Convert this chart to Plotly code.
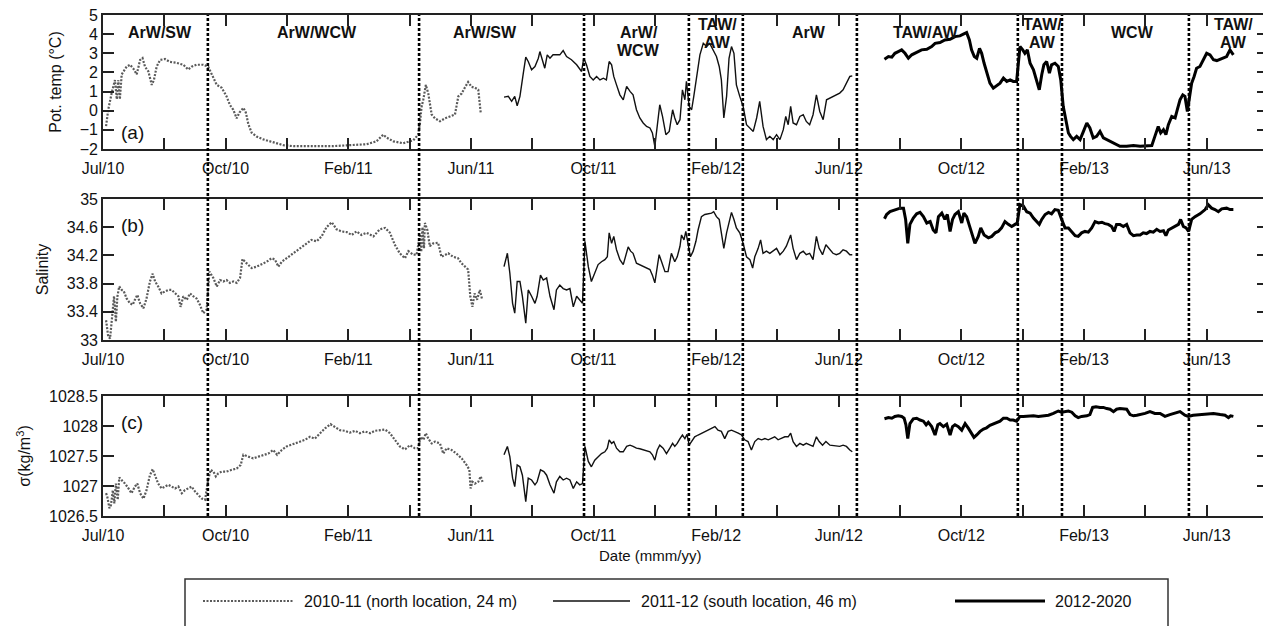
import plotly.graph_objects as go

# ---------------- axis / annotation text ----------------
MAJOR_MONTHS = list(range(-4, 33, 4))          # month index, Oct/10 = 0
TICK_LABELS = ["Jul/10", "Oct/10", "Feb/11", "Jun/11", "Oct/11",
               "Feb/12", "Jun/12", "Oct/12", "Feb/13", "Jun/13"]
BOUNDARY_MONTHS = [-0.58, 6.31, 11.69, 15.11, 16.87, 20.59, 25.84, 27.28, 31.42]
REGION_LABELS = ["ArW/SW", "ArW/WCW", "ArW/SW", "ArW/<br>WCW", "TAW/<br>AW", "ArW",
                 "TAW/AW", "TAW/<br>AW", "WCW", "TAW/<br>AW"]
REGION_CENTERS = [-2.14, 2.98, 8.46, 13.48, 16.03, 19.03, 22.84, 26.63, 29.59, 32.89]
SERIES_NAMES = ["2010-11 (north location, 24 m)", "2011-12 (south location, 46 m)", "2012-2020"]

# ---------------- (a) potential temperature ----------------
temp_2010_t = [-3.90, -3.83, -3.72, -3.61, -3.55, -3.50, -3.45, -3.39, -3.23, -3.12, -3.01, -2.90,
               -2.79, -2.71, -2.63, -2.52, -2.41, -2.34, -2.25, -2.14, -1.98, -1.82, -1.60, -1.38,
               -1.22, -1.11, -0.95, -0.73, -0.57, -0.46, -0.29, -0.13, 0.03, 0.14, 0.25, 0.36,
               0.45, 0.58, 0.66, 0.74, 0.85, 1.01, 1.23, 1.45, 1.66, 1.88, 2.21, 2.97, 3.51, 4.05,
               4.60, 4.92, 5.14, 5.25, 5.47, 5.79, 6.12, 6.28, 6.34, 6.39, 6.45, 6.53, 6.61, 6.72,
               6.83, 6.99, 7.15, 7.32, 7.48, 7.59, 7.70, 7.80, 7.91, 8.02, 8.13, 8.24, 8.32]
temp_2010 = [-0.8, 0.05, 0.9, 1.6, 0.6, 1.6, 0.6, 1.9, 2.3, 2.4, 2.2, 1.9,
             2.65, 2.75, 2.3, 2.05, 1.35, 1.6, 2.3, 2.65, 2.7, 2.55, 2.5, 2.4,
             2.15, 2.3, 2.4, 2.4, 2.3, 1.9, 1.35, 1.2, 0.75, 0.3, 0.05, -0.4,
             -0.1, 0.15, -0.1, -0.7, -1.15, -1.35, -1.5, -1.6, -1.7, -1.8, -1.85, -1.85, -1.85, -1.8,
             -1.75, -1.6, -1.25, -1.4, -1.6, -1.7, -1.55, -1.25, -0.65, 0.2, 0.6, 1.35, 0.9, -0.2,
             -0.4, -0.55, -0.4, -0.3, -0.2, 0.75, 0.9, 1.2, 1.5, 1.25, 1.2, 1.1, -0.1]

temp_2011_t = [9.08, 9.22, 9.33, 9.43, 9.51, 9.60, 9.71, 9.79, 9.87, 9.98, 10.09, 10.20, 10.25,
               10.34, 10.41, 10.49, 10.58, 10.68, 10.79, 10.90, 11.01, 11.12, 11.28, 11.45, 11.61,
               11.68, 11.77, 11.88, 11.99, 12.10, 12.21, 12.32, 12.42, 12.51, 12.59, 12.66, 12.75,
               12.86, 12.97, 13.08, 13.19, 13.29, 13.40, 13.51, 13.62, 13.73, 13.84, 13.92, 14.00,
               14.08, 14.16, 14.25, 14.36, 14.47, 14.58, 14.65, 14.73, 14.82, 14.90, 14.98, 15.03,
               15.12, 15.20, 15.27, 15.36, 15.47, 15.58, 15.69, 15.79, 15.90, 16.01, 16.10, 16.17,
               16.25, 16.34, 16.42, 16.50, 16.58, 16.66, 16.77, 16.88, 16.99, 17.10, 17.21, 17.32,
               17.42, 17.53, 17.64, 17.75, 17.86, 17.97, 18.08, 18.19, 18.27, 18.35, 18.43, 18.51,
               18.62, 18.73, 18.84, 18.94, 19.05, 19.16, 19.27, 19.38, 19.49, 19.60, 19.71, 19.81,
               19.92, 20.03, 20.14, 20.25, 20.36, 20.44]
temp_2011 = [0.71, 0.75, 0.49, 0.75, 0.26, 0.75, 1.96, 2.80, 2.57, 2.14, 2.31, 2.74, 3.09,
             2.66, 2.22, 2.92, 2.74, 2.92, 2.92, 2.92, 3.14, 2.83, 2.66, 2.40, 2.05,
             2.74, 2.40, 1.79, 1.61, 1.79, 1.61, 1.70, 1.61, 2.57, 2.40, 1.79, 1.35,
             0.83, 0.57, 1.27, 1.01, 0.83, 0.05, -0.38, -0.64, -0.82, -0.90, -1.16, -1.86,
             -0.82, 0.31, -0.30, -1.25, -1.08, 0.05, -0.38, -0.73, -0.47, 1.09, 0.57, 1.53,
             0.23, 0.05, 0.75, 1.79, 2.92, 3.52, 3.35, 3.52, 3.18, 2.83, 2.31, 1.61,
             -0.38, 0.75, 2.74, 3.35, 3.00, 1.35, 0.75, 0.23, -0.73, -0.90, -1.08, -0.38,
             0.49, -0.82, -1.51, -1.34, -1.51, -1.25, -1.51, -0.99, -0.30, -0.73, 0.23, -0.64,
             -0.73, -0.30, -0.21, -0.56, -0.73, -0.21, 0.83, -0.04, -0.47, 0.57, 0.66, 0.75,
             0.83, 0.92, 1.09, 1.44, 1.79, 1.82]

temp_2012_t = [21.49, 21.62, 21.73, 21.83, 21.94, 22.05, 22.16, 22.27, 22.38, 22.54, 22.70, 22.87,
               23.03, 23.14, 23.30, 23.46, 23.63, 23.79, 23.95, 24.08, 24.17, 24.26, 24.33, 24.42,
               24.50, 24.59, 24.66, 24.74, 24.82, 24.93, 25.04, 25.15, 25.26, 25.37, 25.48, 25.59,
               25.69, 25.80, 25.91, 26.00, 26.07, 26.15, 26.24, 26.35, 26.45, 26.54, 26.62, 26.69,
               26.78, 26.87, 26.94, 27.05, 27.16, 27.24, 27.32, 27.41, 27.49, 27.56, 27.65, 27.76,
               27.87, 27.98, 28.09, 28.19, 28.30, 28.41, 28.52, 28.63, 28.74, 28.85, 29.01, 29.17,
               29.39, 29.61, 29.83, 30.04, 30.21, 30.31, 30.42, 30.50, 30.59, 30.67, 30.75, 30.86,
               30.97, 31.04, 31.13, 31.22, 31.29, 31.37, 31.43, 31.51, 31.59, 31.67, 31.78, 31.89,
               32.00, 32.11, 32.22, 32.33, 32.49, 32.65, 32.76, 32.87]
temp_2012 = [2.69, 2.83, 2.80, 3.00, 3.09, 3.18, 3.00, 2.74, 2.92, 3.04, 3.18, 3.21,
             3.35, 3.52, 3.56, 3.70, 3.73, 3.87, 3.91, 4.01, 4.08, 3.70, 3.18, 2.83,
             2.74, 3.26, 3.00, 2.48, 2.05, 1.44, 1.18, 1.30, 1.44, 1.70, 1.53, 1.61,
             1.53, 1.53, 3.35, 3.18, 3.00, 3.18, 2.48, 2.14, 1.61, 1.09, 1.88, 2.40,
             2.57, 1.96, 2.40, 2.48, 2.31, 1.61, 0.23, -0.47, -1.16, -1.34, -1.51, -1.34,
             -1.51, -1.08, -0.64, -0.90, -1.42, -1.34, -1.08, -1.42, -1.51, -1.60, -1.77, -1.86,
             -1.86, -1.82, -1.86, -1.82, -1.82, -1.34, -0.82, -1.16, -0.99, -1.25, -0.73, -0.30,
             -0.38, 0.05, 0.57, 0.83, 0.75, -0.04, 0.57, 1.44, 1.79, 2.22, 2.31, 2.66,
             3.00, 2.92, 2.66, 2.62, 2.74, 2.83, 3.18, 2.92]

# ---------------- (b) salinity ----------------
sal_2010_t = [-3.90, -3.83, -3.77, -3.72, -3.64, -3.58, -3.53, -3.47, -3.39, -3.32, -3.23, -3.12,
              -3.03, -2.96, -2.88, -2.79, -2.68, -2.58, -2.47, -2.38, -2.30, -2.20, -2.09, -1.98,
              -1.87, -1.76, -1.65, -1.54, -1.47, -1.38, -1.27, -1.16, -1.05, -0.95, -0.84, -0.73,
              -0.62, -0.53, -0.40, -0.29, -0.18, -0.08, 0.03, 0.14, 0.25, 0.36, 0.47, 0.55,
              0.68, 0.85, 1.01, 1.17, 1.34, 1.50, 1.61, 1.72, 1.83, 1.99, 2.21, 2.42,
              2.64, 2.80, 2.97, 3.13, 3.29, 3.46, 3.62, 3.78, 3.95, 4.11, 4.27, 4.43,
              4.60, 4.82, 5.03, 5.20, 5.36, 5.52, 5.68, 5.85, 5.96, 6.12, 6.23, 6.34,
              6.38, 6.42, 6.47, 6.50, 6.58, 6.66, 6.77, 6.93, 7.04, 7.15, 7.26, 7.42,
              7.58, 7.69, 7.80, 7.91, 7.98, 8.05, 8.12, 8.20, 8.29, 8.37]
sal_2010 = [33.28, 33.05, 33.02, 33.28, 33.62, 33.26, 33.62, 33.76, 33.71, 33.69, 33.59, 33.52,
            33.50, 33.57, 33.64, 33.52, 33.45, 33.59, 33.83, 33.94, 33.83, 33.76, 33.66, 33.69,
            33.71, 33.71, 33.66, 33.62, 33.47, 33.62, 33.57, 33.66, 33.62, 33.59, 33.50, 33.38,
            33.43, 33.97, 33.88, 33.76, 33.85, 33.83, 33.85, 33.81, 33.83, 33.81, 33.88, 34.15,
            34.09, 34.02, 34.04, 34.07, 34.11, 34.16, 34.14, 34.04, 34.11, 34.16, 34.23, 34.30,
            34.37, 34.42, 34.40, 34.47, 34.60, 34.67, 34.57, 34.54, 34.53, 34.49, 34.54, 34.49,
            34.52, 34.47, 34.57, 34.59, 34.52, 34.35, 34.23, 34.16, 34.26, 34.21, 34.21, 34.50,
            34.25, 34.60, 34.30, 34.66, 34.56, 34.33, 34.37, 34.38, 34.18, 34.21, 34.23, 34.18,
            34.16, 34.09, 34.04, 34.00, 33.62, 33.47, 33.66, 33.57, 33.71, 33.57]

sal_2011_t = [9.08, 9.19, 9.27, 9.36, 9.43, 9.51, 9.60, 9.68, 9.79, 9.87, 9.98, 10.09, 10.16,
              10.27, 10.36, 10.47, 10.58, 10.71, 10.79, 10.90, 11.01, 11.12, 11.23, 11.34, 11.45,
              11.55, 11.64, 11.72, 11.83, 11.93, 12.04, 12.15, 12.26, 12.37, 12.45, 12.51, 12.59,
              12.66, 12.75, 12.86, 12.97, 13.05, 13.13, 13.21, 13.29, 13.40, 13.51, 13.62, 13.73,
              13.84, 13.92, 14.00, 14.08, 14.14, 14.22, 14.33, 14.43, 14.54, 14.65, 14.73, 14.82,
              14.87, 14.95, 15.01, 15.09, 15.16, 15.25, 15.34, 15.41, 15.52, 15.63, 15.74, 15.85,
              15.92, 16.01, 16.10, 16.17, 16.25, 16.34, 16.42, 16.50, 16.58, 16.66, 16.77, 16.88,
              16.99, 17.10, 17.19, 17.26, 17.37, 17.45, 17.53, 17.64, 17.75, 17.86, 17.97, 18.08,
              18.19, 18.29, 18.43, 18.51, 18.62, 18.73, 18.84, 18.94, 19.05, 19.16, 19.27, 19.36,
              19.47, 19.58, 19.71, 19.81, 19.92, 20.03, 20.14, 20.25, 20.36, 20.44]
sal_2011 = [34.04, 34.23, 33.95, 33.52, 33.38, 33.83, 33.83, 33.62, 33.24, 33.71, 33.62, 33.52, 33.62,
            33.92, 33.85, 33.88, 33.62, 33.43, 33.71, 33.78, 33.73, 33.71, 33.73, 33.47, 33.62,
            33.57, 33.52, 34.40, 34.04, 33.83, 33.95, 34.07, 34.11, 34.14, 34.18, 34.52, 34.37,
            34.47, 34.28, 34.14, 34.07, 34.21, 34.32, 34.26, 34.23, 34.09, 34.07, 34.04, 34.02,
            34.00, 33.92, 33.81, 34.04, 34.21, 34.11, 33.97, 33.97, 34.23, 34.11, 34.18, 34.33,
            34.49, 34.42, 34.54, 34.35, 34.18, 34.26, 34.40, 34.56, 34.75, 34.78, 34.79, 34.80,
            34.82, 34.75, 34.71, 34.54, 34.30, 34.52, 34.68, 34.81, 34.71, 34.59, 34.52, 34.37,
            34.18, 34.14, 34.02, 34.18, 34.30, 34.42, 34.23, 34.26, 34.23, 34.26, 34.30, 34.21,
            34.26, 34.33, 34.49, 34.30, 34.14, 34.23, 34.26, 34.21, 34.23, 34.14, 34.47, 34.30,
            34.21, 34.35, 34.28, 34.23, 34.21, 34.23, 34.28, 34.26, 34.21, 34.21]

sal_2012_t = [21.49, 21.56, 21.67, 21.78, 21.89, 22.00, 22.11, 22.18, 22.25, 22.32, 22.43, 22.54,
              22.65, 22.76, 22.87, 22.98, 23.08, 23.17, 23.25, 23.36, 23.46, 23.54, 23.63, 23.71,
              23.79, 23.90, 24.01, 24.08, 24.17, 24.28, 24.37, 24.44, 24.55, 24.63, 24.74, 24.88,
              24.99, 25.10, 25.20, 25.31, 25.42, 25.53, 25.64, 25.75, 25.82, 25.91, 26.02, 26.13,
              26.24, 26.35, 26.45, 26.54, 26.62, 26.73, 26.84, 26.94, 27.05, 27.16, 27.27, 27.38,
              27.49, 27.60, 27.71, 27.81, 27.92, 28.03, 28.14, 28.25, 28.36, 28.47, 28.58, 28.68,
              28.79, 28.90, 28.98, 29.06, 29.17, 29.28, 29.39, 29.50, 29.61, 29.72, 29.83, 29.93,
              30.04, 30.15, 30.26, 30.37, 30.48, 30.59, 30.67, 30.75, 30.86, 30.97, 31.08, 31.15,
              31.24, 31.33, 31.41, 31.51, 31.62, 31.78, 31.95, 32.05, 32.16, 32.27, 32.38, 32.49,
              32.65, 32.76, 32.87]
sal_2012 = [34.72, 34.78, 34.82, 34.84, 34.86, 34.87, 34.87, 34.71, 34.37, 34.64, 34.73, 34.79,
            34.81, 34.75, 34.66, 34.68, 34.56, 34.52, 34.75, 34.80, 34.71, 34.78, 34.54, 34.71,
            34.78, 34.82, 34.66, 34.80, 34.75, 34.61, 34.47, 34.37, 34.47, 34.59, 34.49, 34.45,
            34.47, 34.52, 34.54, 34.59, 34.68, 34.64, 34.61, 34.64, 34.66, 34.92, 34.90, 34.82,
            34.80, 34.73, 34.68, 34.64, 34.71, 34.78, 34.81, 34.79, 34.85, 34.84, 34.71, 34.59,
            34.59, 34.54, 34.48, 34.47, 34.52, 34.54, 34.53, 34.59, 34.68, 34.66, 34.67, 34.65,
            34.64, 34.61, 34.54, 34.64, 34.64, 34.61, 34.64, 34.52, 34.48, 34.49, 34.49, 34.52,
            34.51, 34.54, 34.53, 34.57, 34.54, 34.55, 34.48, 34.56, 34.59, 34.61, 34.64, 34.71,
            34.61, 34.59, 34.54, 34.71, 34.75, 34.79, 34.85, 34.92, 34.87, 34.85, 34.82, 34.86,
            34.87, 34.85, 34.85]

# ---------------- (c) density ----------------
sig_2010_t = [-3.90, -3.86, -3.79, -3.74, -3.68, -3.63, -3.58, -3.52, -3.47, -3.39, -3.28, -3.17,
              -3.07, -2.96, -2.88, -2.79, -2.68, -2.58, -2.47, -2.38, -2.30, -2.20, -2.09, -1.98,
              -1.87, -1.76, -1.65, -1.54, -1.43, -1.33, -1.22, -1.11, -1.00, -0.89, -0.78, -0.67,
              -0.57, -0.49, -0.40, -0.32, -0.24, -0.13, 0.03, 0.20, 0.36, 0.49, 0.58, 0.74,
              0.90, 1.07, 1.23, 1.39, 1.55, 1.68, 1.83, 1.99, 2.21, 2.42, 2.59, 2.75,
              2.91, 3.08, 3.24, 3.42, 3.57, 3.73, 3.89, 4.05, 4.22, 4.38, 4.54, 4.71,
              4.87, 5.03, 5.20, 5.36, 5.52, 5.68, 5.85, 6.01, 6.17, 6.28, 6.36, 6.45,
              6.53, 6.61, 6.72, 6.83, 6.99, 7.10, 7.21, 7.37, 7.53, 7.70, 7.86, 7.95,
              7.99, 8.05, 8.13, 8.24, 8.32, 8.38]
sig_2010 = [1026.88, 1026.82, 1026.63, 1026.68, 1026.93, 1026.71, 1027.04, 1026.77, 1027.14, 1027.10,
            1027.04, 1026.96, 1026.88, 1026.99, 1027.04, 1026.88, 1026.79, 1026.93, 1027.18, 1027.28,
            1027.16, 1027.04, 1026.96, 1026.99, 1027.02, 1026.99, 1026.96, 1026.99, 1026.88, 1026.93,
            1026.96, 1026.99, 1026.91, 1026.85, 1026.79, 1026.77, 1027.10, 1027.27, 1027.24, 1027.16,
            1027.21, 1027.24, 1027.24, 1027.27, 1027.29, 1027.35, 1027.52, 1027.49, 1027.46, 1027.49,
            1027.52, 1027.54, 1027.60, 1027.52, 1027.60, 1027.66, 1027.70, 1027.74, 1027.77, 1027.82,
            1027.79, 1027.88, 1027.96, 1028.03, 1027.98, 1027.93, 1027.92, 1027.89, 1027.92, 1027.88,
            1027.91, 1027.88, 1027.92, 1027.93, 1027.94, 1027.88, 1027.77, 1027.66, 1027.61, 1027.68,
            1027.63, 1027.63, 1027.82, 1027.77, 1027.88, 1027.79, 1027.71, 1027.74, 1027.71, 1027.54,
            1027.63, 1027.60, 1027.54, 1027.46, 1027.35, 1027.27, 1026.96, 1027.07, 1027.04, 1027.07,
            1027.16, 1027.07]

sig_2011_t = [9.08, 9.19, 9.27, 9.36, 9.43, 9.51, 9.60, 9.68, 9.79, 9.87, 9.98, 10.09, 10.16,
              10.27, 10.38, 10.47, 10.58, 10.71, 10.79, 10.90, 11.01, 11.12, 11.23, 11.34, 11.45,
              11.55, 11.64, 11.72, 11.83, 11.93, 12.04, 12.15, 12.26, 12.37, 12.45, 12.51, 12.59,
              12.66, 12.75, 12.86, 12.97, 13.08, 13.19, 13.29, 13.40, 13.51, 13.62, 13.73, 13.84,
              13.92, 14.00, 14.08, 14.16, 14.27, 14.38, 14.49, 14.58, 14.65, 14.73, 14.82, 14.90,
              14.98, 15.05, 15.12, 15.20, 15.30, 15.41, 15.52, 15.63, 15.74, 15.85, 15.96, 16.06,
              16.17, 16.28, 16.39, 16.50, 16.61, 16.72, 16.83, 16.93, 17.04, 17.15, 17.26, 17.37,
              17.48, 17.59, 17.70, 17.80, 17.91, 18.02, 18.13, 18.24, 18.35, 18.43, 18.51, 18.62,
              18.73, 18.84, 18.94, 19.05, 19.16, 19.27, 19.36, 19.47, 19.58, 19.71, 19.81, 19.92,
              20.03, 20.14, 20.25, 20.36, 20.44]
sig_2011 = [1027.52, 1027.66, 1027.49, 1027.13, 1026.99, 1027.35, 1027.32, 1027.18, 1026.74, 1027.13,
            1027.10, 1027.02, 1027.07, 1027.27, 1027.24, 1027.18, 1027.02, 1026.88, 1027.07, 1027.16,
            1027.10, 1027.13, 1027.10, 1026.96, 1027.07, 1027.02, 1027.04, 1027.66, 1027.41, 1027.32,
            1027.43, 1027.49, 1027.54, 1027.57, 1027.63, 1027.77, 1027.71, 1027.74, 1027.63, 1027.57,
            1027.57, 1027.66, 1027.68, 1027.66, 1027.63, 1027.62, 1027.60, 1027.58, 1027.57, 1027.52,
            1027.43, 1027.60, 1027.68, 1027.63, 1027.54, 1027.63, 1027.71, 1027.66, 1027.71, 1027.79,
            1027.85, 1027.79, 1027.86, 1027.68, 1027.74, 1027.82, 1027.85, 1027.88, 1027.91, 1027.93,
            1027.97, 1027.99, 1027.93, 1027.91, 1027.79, 1027.91, 1027.93, 1027.91, 1027.88, 1027.85,
            1027.77, 1027.74, 1027.60, 1027.74, 1027.79, 1027.77, 1027.79, 1027.77, 1027.79, 1027.82,
            1027.77, 1027.79, 1027.82, 1027.82, 1027.88, 1027.74, 1027.66, 1027.71, 1027.68, 1027.71,
            1027.68, 1027.66, 1027.82, 1027.74, 1027.68, 1027.74, 1027.68, 1027.67, 1027.66, 1027.66,
            1027.68, 1027.66, 1027.60, 1027.57]

sig_2012_t = [21.49, 21.62, 21.73, 21.83, 21.94, 22.05, 22.13, 22.19, 22.25, 22.32, 22.43, 22.54,
              22.65, 22.76, 22.85, 22.92, 23.03, 23.14, 23.23, 23.30, 23.41, 23.52, 23.63, 23.71,
              23.79, 23.90, 24.01, 24.12, 24.23, 24.33, 24.41, 24.50, 24.61, 24.72, 24.82, 24.93,
              25.04, 25.15, 25.26, 25.37, 25.48, 25.59, 25.69, 25.80, 25.91, 26.02, 26.18, 26.35,
              26.51, 26.67, 26.84, 27.00, 27.16, 27.27, 27.38, 27.49, 27.60, 27.71, 27.81, 27.92,
              28.09, 28.19, 28.28, 28.39, 28.52, 28.63, 28.74, 28.85, 28.96, 29.06, 29.17, 29.28,
              29.39, 29.50, 29.61, 29.72, 29.83, 29.99, 30.15, 30.31, 30.48, 30.64, 30.80, 30.97,
              31.13, 31.29, 31.40, 31.56, 31.78, 32.00, 32.22, 32.44, 32.60, 32.71, 32.78, 32.87]
sig_2012 = [1028.12, 1028.14, 1028.13, 1028.16, 1028.17, 1028.16, 1028.13, 1028.02, 1027.79, 1028.04,
            1028.12, 1028.13, 1028.10, 1028.08, 1028.02, 1028.06, 1027.99, 1027.85, 1028.02, 1028.04,
            1027.99, 1028.03, 1027.85, 1027.99, 1028.02, 1027.99, 1027.93, 1028.04, 1027.96, 1027.88,
            1027.81, 1027.85, 1027.91, 1027.95, 1027.97, 1028.01, 1028.03, 1028.06, 1028.08, 1028.13,
            1028.13, 1028.10, 1028.10, 1028.08, 1028.16, 1028.16, 1028.17, 1028.17, 1028.16, 1028.17,
            1028.18, 1028.21, 1028.25, 1028.23, 1028.24, 1028.25, 1028.23, 1028.17, 1028.14, 1028.16,
            1028.17, 1028.19, 1028.31, 1028.32, 1028.31, 1028.31, 1028.29, 1028.28, 1028.24, 1028.28,
            1028.29, 1028.28, 1028.28, 1028.19, 1028.17, 1028.18, 1028.19, 1028.21, 1028.24, 1028.21,
            1028.21, 1028.16, 1028.19, 1028.21, 1028.24, 1028.18, 1028.16, 1028.18, 1028.19, 1028.19,
            1028.21, 1028.19, 1028.18, 1028.14, 1028.17, 1028.16]

# ---------------- figure ----------------
# the page body adds an 8 px margin, so the figure is laid out 8 px up/left
OFF = 8
W, H = 1263, 618
FONT = "Liberation Sans, Arial, sans-serif"
STYLES = [dict(color="#5a5a5a", width=2.2, dash="2px,1.5px"),
          dict(color="#111111", width=1.4),
          dict(color="#000000", width=3)]


def px_x(p):
    return (p - OFF) / W


def px_y(p):
    return 1 - (p - OFF) / H


X_DOMAIN = [px_x(103), px_x(1268)]
Y_DOMAINS = [[px_y(149), px_y(15)], [px_y(340), px_y(199)], [px_y(516), px_y(396)]]

fig = go.Figure()
panels = [
    ([temp_2010_t, temp_2011_t, temp_2012_t], [temp_2010, temp_2011, temp_2012]),
    ([sal_2010_t, sal_2011_t, sal_2012_t], [sal_2010, sal_2011, sal_2012]),
    ([sig_2010_t, sig_2011_t, sig_2012_t], [sig_2010, sig_2011, sig_2012]),
]
for i, (ts, vs) in enumerate(panels):
    suffix = "" if i == 0 else str(i + 1)
    for k in range(3):
        fig.add_trace(go.Scatter(x=ts[k], y=vs[k], mode="lines", line=STYLES[k],
                                 name=SERIES_NAMES[k], showlegend=False,
                                 xaxis="x" + suffix, yaxis="y" + suffix))

axis_common = dict(showline=True, linecolor="#222", linewidth=1.6, mirror="ticks",
                   ticks="inside", ticklen=11, tickwidth=1.5, tickcolor="#222",
                   showgrid=False, zeroline=False, ticklabeloverflow="allow",
                   tickfont=dict(family=FONT, size=16, color="#111"))

y_specs = [
    dict(range=[-2, 5], tickvals=[-2, -1, 0, 1, 2, 3, 4, 5], title="Pot. temp (°C)"),
    dict(range=[33, 35], tickvals=[33, 33.4, 33.8, 34.2, 34.6, 35],
         ticktext=["33", "33.4", "33.8", "34.2", "34.6", "35"], title="Salinity"),
    dict(range=[1026.5, 1028.5], tickvals=[1026.5, 1027, 1027.5, 1028, 1028.5],
         ticktext=["1026.5", "1027", "1027.5", "1028", "1028.5"], title="σ(kg/m<sup>3</sup>)"),
]

layout = dict(width=W, height=H, margin=dict(l=0, r=0, t=0, b=0),
              paper_bgcolor="white", plot_bgcolor="white", showlegend=False,
              font=dict(family=FONT, size=16, color="#111"))
for i in range(3):
    suffix = "" if i == 0 else str(i + 1)
    ys = y_specs[i]
    layout["xaxis" + suffix] = dict(axis_common, domain=X_DOMAIN, range=[-4, 34],
                                    tickvals=MAJOR_MONTHS, ticktext=TICK_LABELS,
                                    ticklabelstandoff=4,
                                    minor=dict(ticks="inside", ticklen=11, tickwidth=1.5,
                                               tickcolor="#222", tick0=-4, dtick=2,
                                               showgrid=False),
                                    anchor="y" + suffix, automargin=False)
    yd = dict(axis_common, domain=Y_DOMAINS[i], range=ys["range"], tickvals=ys["tickvals"],
              anchor="x" + suffix, automargin=False,
              title=dict(text=ys["title"], standoff=14, font=dict(family=FONT, size=16)))
    if "ticktext" in ys:
        yd["ticktext"] = ys["ticktext"]
    layout["yaxis" + suffix] = yd
fig.update_layout(**layout)

# regime boundaries (dashed verticals through all panels)
for b in BOUNDARY_MONTHS:
    fig.add_shape(type="line", xref="x", yref="paper", x0=b, x1=b,
                  y0=Y_DOMAINS[2][0], y1=Y_DOMAINS[0][1],
                  line=dict(color="#000", width=2.6, dash="3px,2px"))

# water-mass labels in panel (a)
for lab, c in zip(REGION_LABELS, REGION_CENTERS):
    lines = lab.split("<br>")
    if len(lines) == 1:
        ys_line = [4.11]
    elif lab.startswith("ArW"):
        ys_line = [4.11, 3.17]
    else:
        ys_line = [4.48, 3.54]
    for txt, yv in zip(lines, ys_line):
        fig.add_annotation(x=c, y=yv, xref="x", yref="y", text="<b>%s</b>" % txt,
                           showarrow=False, font=dict(family=FONT, size=16, color="#111"),
                           xanchor="center", yanchor="middle")

# panel letters
for letter, yp in zip(["(a)", "(b)", "(c)"], [132, 225, 422]):
    fig.add_annotation(x=px_x(119), y=px_y(yp), xref="paper", yref="paper", text=letter,
                       showarrow=False, xanchor="left", yanchor="middle",
                       font=dict(family=FONT, size=19, color="#111"))

# x axis title
fig.add_annotation(x=px_x(650), y=px_y(555), xref="paper", yref="paper", text="Date (mmm/yy)",
                   showarrow=False, xanchor="center", yanchor="middle",
                   font=dict(family=FONT, size=15, color="#111"))

# legend box
fig.add_shape(type="rect", xref="paper", yref="paper", x0=px_x(185), x1=px_x(1168),
              y0=px_y(660), y1=px_y(579), line=dict(color="#333", width=1.5),
              fillcolor="rgba(0,0,0,0)")
legend_items = [(203, 293, 302), (553, 630, 639), (955, 1045, 1053)]
for k, (a, b, tx) in enumerate(legend_items):
    fig.add_shape(type="line", xref="paper", yref="paper", x0=px_x(a), x1=px_x(b),
                  y0=px_y(601), y1=px_y(601), line=STYLES[k])
    fig.add_annotation(x=px_x(tx), y=px_y(601), xref="paper", yref="paper",
                       text=SERIES_NAMES[k], showarrow=False, xanchor="left", yanchor="middle",
                       font=dict(family=FONT, size=16, color="#111"))

fig.write_html("out.html")
